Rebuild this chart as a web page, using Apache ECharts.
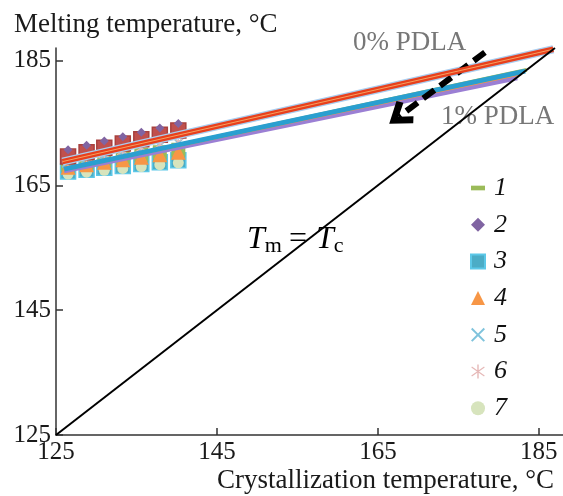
<!DOCTYPE html>
<html>
<head>
<meta charset="utf-8">
<script src="https://cdn.jsdelivr.net/npm/echarts@6/dist/echarts.min.js"></script>
<style>
  html, body { margin: 0; padding: 0; background: #fff; }
  #chart { width: 563px; height: 496px; }
</style>
</head>
<body>
<div id="chart"></div>
<script>
// crystallization temperatures of the data points
const tcValues = [126.5, 128.8, 131.0, 133.3, 135.6, 137.9, 140.2];
// melting temperatures, per legend entry
const tmRed = [169.6, 170.3, 171.0, 171.7, 172.4, 173.1, 173.8];
const tm1 = [168.3, 168.7, 169.1, 169.5, 169.9, 170.3, 170.7];
const tm2 = [170.7, 171.4, 172.1, 172.8, 173.5, 174.2, 174.9];
const tm3 = [167.2, 167.5, 167.8, 168.1, 168.4, 168.7, 169.0];
const tm4 = [167.9, 168.3, 168.7, 169.1, 169.5, 169.9, 170.3];
const tm5 = [168.8, 169.3, 169.8, 170.3, 170.8, 171.3, 171.8];
const tm6 = [169.0, 169.5, 170.0, 170.5, 171.0, 171.5, 172.0];
const tm7 = [166.8, 167.1, 167.4, 167.7, 168.0, 168.3, 168.6];

// Hoffman-Weeks extrapolation lines [start, end]
const fitRed = [[125.8, 168.8], [186.8, 186.8]];
const fitTeal = [[126.0, 167.6], [183.3, 183.3]];
const fitOrange = [[126.0, 167.4], [182.8, 182.8]];
const fitPurple = [[126.0, 167.4], [182.3, 182.3]];
const fitGreen = [[126.0, 167.5], [183.5, 183.5]];
const diagonal = [[125, 125], [187, 187]];
const arrowFrom = [178.3, 186.3];
const arrowTo = [167.6, 176.0];

const xTicks = [125, 145, 165, 185];
const yTicks = [125, 145, 165, 185];
const legendNames = ['1', '2', '3', '4', '5', '6', '7'];

const serif = 'Liberation Serif';
const dashSym = 'path://M0,0H12V4H0Z';
const crossSym = 'path://M1,0L5,4L9,0L10,1L6,5L10,9L9,10L5,6L1,10L0,9L4,5L0,1Z';
const starSym = 'path://M4.5,0H5.5V10H4.5Z M0.2,2.2L0.7,1.4L9.8,7.8L9.3,8.6Z M0.7,8.6L0.2,7.8L9.3,1.4L9.8,2.2Z';
const chevron = 'path://M5,0L10,7L8,8.6L5,4.2L2,8.6L0,7Z';

function pts(ys) {
  return tcValues.map((x, i) => [x, ys[i]]);
}
function scatter(name, ys, symbol, size, color, border) {
  return {
    name: name,
    type: 'scatter',
    data: pts(ys),
    symbol: symbol,
    symbolSize: size,
    itemStyle: { color: color, borderColor: border || color, borderWidth: border ? 1.5 : 0, opacity: 1 },
    z: 2
  };
}
function fit(data, color, width, z) {
  return {
    type: 'line',
    data: data,
    symbol: 'none',
    lineStyle: { color: color, width: width },
    silent: true,
    z: z
  };
}

const chart = echarts.init(document.getElementById('chart'));
chart.setOption({
  animation: false,
  title: [
    { text: 'Melting temperature, °C', left: 9, top: 6,
      textStyle: { fontFamily: serif, fontSize: 27, fontWeight: 'normal', color: '#1a1a1a' } },
    { text: 'Crystallization temperature, °C', right: 4, top: 462,
      textStyle: { fontFamily: serif, fontSize: 27, fontWeight: 'normal', color: '#1a1a1a' } }
  ],
  grid: { left: 56, right: 0, top: 48, bottom: 61 },
  xAxis: {
    type: 'value', min: 125, max: 188, interval: 20,
    axisLine: { lineStyle: { color: '#333', width: 1.5 } },
    axisTick: { inside: true, length: 7, customValues: xTicks, lineStyle: { color: '#333', width: 1.5 } },
    axisLabel: { customValues: xTicks, fontFamily: serif, fontSize: 25, color: '#1a1a1a', margin: 5 },
    splitLine: { show: false }
  },
  yAxis: {
    type: 'value', min: 125, max: 187, interval: 20,
    axisLine: { show: true, lineStyle: { color: '#333', width: 1.5 } },
    axisTick: { show: true, inside: true, length: 7, customValues: yTicks, lineStyle: { color: '#333', width: 1.5 } },
    axisLabel: { customValues: yTicks, fontFamily: serif, fontSize: 25, color: '#1a1a1a', margin: 5 },
    splitLine: { show: false }
  },
  legend: {
    orient: 'vertical', left: 465, top: 170, itemGap: 10.7,
    itemWidth: 14, itemHeight: 14,
    textStyle: { fontFamily: serif, fontStyle: 'italic', fontSize: 26, color: '#111', padding: [0, 0, 0, 4] },
    data: legendNames
  },
  graphic: [
    { type: 'text', left: 353, top: 29,
      style: { text: '0% PDLA', fill: '#777', font: '27px "Liberation Serif"' } },
    { type: 'text', left: 441, top: 103,
      style: { text: '1% PDLA', fill: '#777', font: '27px "Liberation Serif"' } },
    { type: 'text', left: 247, top: 223,
      style: {
        text: '{i|T}{s|m}{n|=}{i|T}{s|c}',
        rich: {
          i: { fontFamily: serif, fontStyle: 'italic', fontSize: 32, fill: '#000', lineHeight: 35 },
          n: { fontFamily: serif, fontSize: 32, fill: '#000', lineHeight: 35, padding: [0, 9, 0, 7] },
          s: { fontFamily: serif, fontSize: 22, fill: '#000', lineHeight: 35, padding: [12, 0, 0, 0] }
        }
      } }
  ],
  series: [
    scatter('3', tm3, 'rect', 15, '#4bacc6', '#5cc8e8'),
    scatter('7', tm7, 'circle', 11, '#d7e4bd'),
    scatter('1', tm1, dashSym, 14, '#9bbb59'),
    scatter('4', tm4, 'triangle', 15, '#f79646'),
    scatter('5', tm5, crossSym, 13, '#7fc3dc'),
    scatter('6', tm6, starSym, 12, '#e6b9b8'),
    scatter('0% PDLA', tmRed, 'rect', 15, '#c0504d', '#a8413e'),
    scatter('2', tm2, 'diamond', 9, '#8064a2'),
    fit(fitGreen, '#9bbb59', 4, 3),
    fit(fitPurple, '#9b7fd4', 6, 3),
    fit(fitOrange, '#f79646', 2, 4),
    fit(fitTeal, '#2a9fd0', 5, 4),
    fit(fitRed, '#a9cdf0', 8, 4),
    fit(fitRed, '#e8401c', 5.5, 5),
    fit(fitRed, '#f5a060', 1, 6),
    {
      type: 'line',
      data: diagonal,
      symbol: 'none',
      lineStyle: { color: '#000', width: 2 },
      silent: true,
      z: 6,
      markLine: {
        silent: true,
        symbol: ['none', chevron],
        symbolSize: [28, 24],
        label: { show: false },
        lineStyle: { color: '#000', width: 6, type: [14, 7] },
        data: [[{ coord: arrowFrom }, { coord: arrowTo }]]
      }
    }
  ]
});
</script>
</body>
</html>
